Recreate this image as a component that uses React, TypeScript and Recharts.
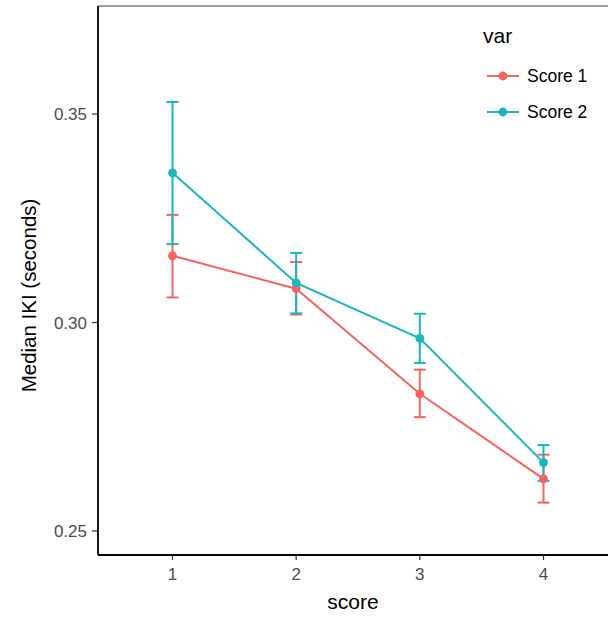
import React from 'react';
import { LineChart, Line, XAxis, YAxis, ErrorBar, ReferenceLine, Label } from 'recharts';

const scores = [1, 2, 3, 4];
const score1Mean = [0.3160, 0.3081, 0.2829, 0.2625];
const score1Low = [0.3060, 0.3019, 0.2773, 0.2568];
const score1High = [0.3258, 0.3145, 0.2887, 0.2683];
const score2Mean = [0.3359, 0.3095, 0.2962, 0.2664];
const score2Low = [0.3188, 0.3022, 0.2903, 0.2620];
const score2High = [0.3529, 0.3167, 0.3021, 0.2706];
const yTicks = [0.25, 0.30, 0.35];
const seriesNames = ['Score 1', 'Score 2'];
const colors = ['#F4645F', '#19B6BB'];

const data = scores.map((s, i) => ({
  score: s,
  s1: score1Mean[i],
  e1: [score1Mean[i] - score1Low[i], score1High[i] - score1Mean[i]],
  s2: score2Mean[i],
  e2: [score2Mean[i] - score2Low[i], score2High[i] - score2Mean[i]],
}));

const X_DOMAIN: [number, number] = [0.3976, 4.5216];
const Y_DOMAIN: [number, number] = [0.24424, 0.3759];
const FONT = '"Liberation Sans", Arial, sans-serif';

const LegendBox = () => (
  <div style={{ position: 'absolute', left: 483, top: 24, fontFamily: FONT, color: '#000' }}>
    <div style={{ fontSize: 21, lineHeight: '24px', marginBottom: 10 }}>var</div>
    {seriesNames.map((n, i) => (
      <div key={n} style={{ display: 'flex', alignItems: 'center', height: 36 }}>
        <svg width={34} height={20} style={{ marginLeft: 3 }}>
          <line x1={1} y1={10} x2={33} y2={10} stroke={colors[i]} strokeWidth={2} />
          <circle cx={17} cy={10} r={4.4} fill={colors[i]} />
        </svg>
        <span style={{ fontSize: 17.5, marginLeft: 7 }}>{n}</span>
      </div>
    ))}
  </div>
);

const YTitle = (props: any) => {
  const vb = props.viewBox || {};
  const cy = (vb.y ?? 0) + (vb.height ?? 0) / 2 + 15;
  return (
    <text x={28} y={cy} transform={`rotate(-90, 28, ${cy})`} textAnchor="middle" dominantBaseline="central"
      fill="#000" fontSize={20.5} fontFamily={FONT}>
      Median IKI (seconds)
    </text>
  );
};

export default function App() {
  return (
    <div style={{ position: 'absolute', left: 0, top: 0, width: 608, height: 617, background: '#fff' }}>
      <LineChart width={608} height={617} data={data} margin={{ top: 6, right: 0, left: 0, bottom: 0 }}>
        <XAxis
          dataKey="score"
          type="number"
          domain={X_DOMAIN}
          ticks={scores}
          allowDataOverflow
          height={62}
          axisLine={{ stroke: '#000', strokeWidth: 1.8 }}
          tickLine={{ stroke: '#333', strokeWidth: 1.2 }}
          tickSize={5}
          tickMargin={8}
          tick={{ fill: '#4D4D4D', fontSize: 17, fontFamily: FONT }}
          label={{ value: 'score', position: 'insideBottom', offset: 8, fill: '#000', fontSize: 21, fontFamily: FONT }}
        />
        <YAxis
          type="number"
          domain={Y_DOMAIN}
          ticks={yTicks}
          allowDataOverflow
          width={98}
          tickFormatter={(v: number) => v.toFixed(2)}
          axisLine={{ stroke: '#000', strokeWidth: 1.8 }}
          tickLine={{ stroke: '#333', strokeWidth: 1.2 }}
          tickSize={6}
          tickMargin={5}
          tick={{ fill: '#4D4D4D', fontSize: 17, fontFamily: FONT }}
        >
          <Label content={<YTitle />} />
        </YAxis>
        <ReferenceLine y={Y_DOMAIN[1]} stroke="#7f7f7f" strokeWidth={1.5} />
        <Line dataKey="s1" name={seriesNames[0]} stroke={colors[0]} strokeWidth={2} isAnimationActive={false}
          dot={{ r: 4.4, fill: colors[0], stroke: 'none' }} activeDot={false}>
          <ErrorBar dataKey="e1" width={6} stroke={colors[0]} strokeWidth={2} direction="y" />
        </Line>
        <Line dataKey="s2" name={seriesNames[1]} stroke={colors[1]} strokeWidth={2} isAnimationActive={false}
          dot={{ r: 4.4, fill: colors[1], stroke: 'none' }} activeDot={false}>
          <ErrorBar dataKey="e2" width={6} stroke={colors[1]} strokeWidth={2} direction="y" />
        </Line>
      </LineChart>
      <LegendBox />
    </div>
  );
}
